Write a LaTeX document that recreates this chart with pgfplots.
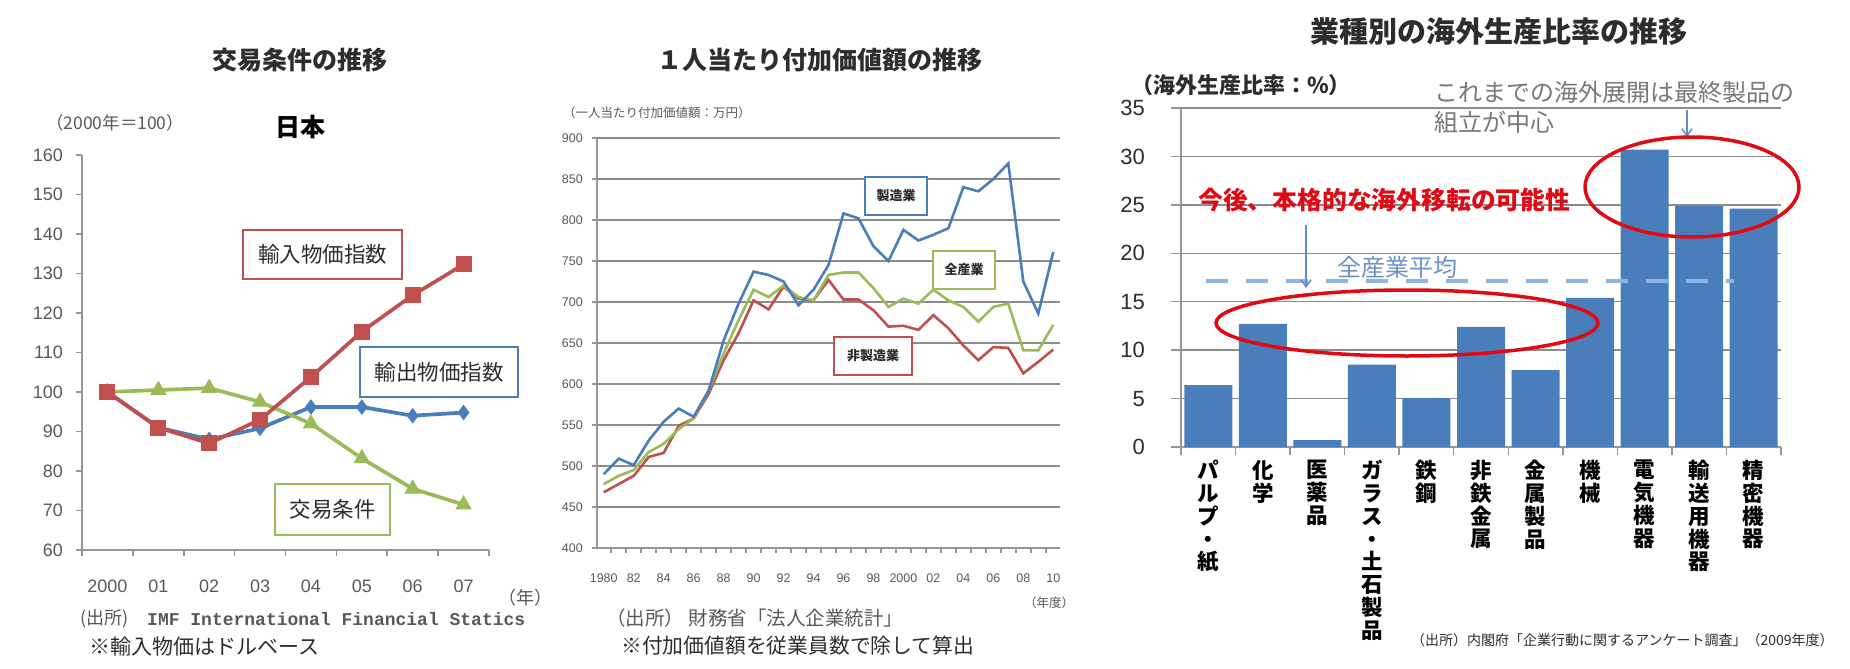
\documentclass[border=0pt]{standalone}
\usepackage{pgfplots}
\pgfplotsset{compat=1.18}
\usepackage{fontspec}
\setmainfont{Liberation Sans}
\newfontfamily\jp{Noto Sans CJK JP}
\newfontfamily\mono{Liberation Mono}
\usetikzlibrary{arrows.meta}
\newcommand{\fs}[1]{\fontsize{#1}{#1}\selectfont}
\definecolor{xred}{RGB}{192,80,77}
\definecolor{xblue}{RGB}{74,126,187}
\definecolor{xgreen}{RGB}{155,187,89}
\definecolor{axgray}{RGB}{150,150,150}
\definecolor{gridgray}{RGB}{140,140,140}
\definecolor{txtgray}{RGB}{89,89,89}
\definecolor{darktxt}{RGB}{45,45,45}
\definecolor{barblue}{RGB}{74,126,187}
\definecolor{avgblue}{RGB}{141,180,226}
\definecolor{annred}{RGB}{225,10,20}
\definecolor{arrowblue}{RGB}{100,140,200}
\definecolor{avgtxt}{RGB}{110,145,200}
\definecolor{anngray}{RGB}{120,120,120}

\pgfplotsset{
  every axis/.append style={
    scale only axis, anchor=south west,
    axis lines=left,
    axis line style={draw=axgray, line width=1.5pt, -},
    tick align=outside,
    every tick/.style={draw=axgray, line width=1.5pt},
    /pgf/number format/assume math mode=true,
  }
}

\begin{document}
\begin{tikzpicture}
\path[use as bounding box, fill=white] (0pt,0pt) rectangle (1850pt,-669pt);

% ---------------- Panel 1 ----------------
\begin{axis}[
  at={(82pt,-550pt)}, width=407pt, height=395pt,
  xmin=-0.5, xmax=7.5, ymin=60, ymax=160,
  ytick={60,70,...,160},
  xtick={0,...,7}, xticklabels={2000,01,02,03,04,05,06,07},
  minor xtick={-0.5,0.5,...,7.5},
  major tick length=6pt, minor tick length=6pt,
  major x tick style={draw=none},
  ticklabel style={font=\fs{18}, text=txtgray, inner sep=0pt},
  yticklabel style={anchor=east, xshift=-13pt},
  xticklabel style={anchor=north, yshift=-24pt},
]
\addplot[xblue, line width=3.7pt, mark=diamond*, mark size=7pt, mark options={line width=1pt}]
  coordinates {(0,100) (1,91) (2,88) (3,90.8) (4,96.2) (5,96.2) (6,94) (7,94.8)};
\addplot[xgreen, line width=3.7pt, mark=triangle*, mark size=8.5pt, mark options={line width=1pt}]
  coordinates {(0,100) (1,100.5) (2,101) (3,97.5) (4,92) (5,83.2) (6,75.5) (7,71.5)};
\addplot[xred, line width=3.7pt, mark=square*, mark size=7.5pt, mark options={line width=1pt}]
  coordinates {(0,100) (1,91) (2,87) (3,93) (4,103.8) (5,115.3) (6,124.5) (7,132.3)};
\end{axis}

\node[font=\jp\bfseries\fs{25}, text=darktxt] at (300pt,-60pt) {交易条件の推移};
\node[font=\jp\fs{17.5}, text=txtgray, anchor=west, inner sep=0pt] at (46pt,-123pt) {（2000年＝100）};
\node[font=\jp\bfseries\fs{25}, text=black] at (300pt,-127pt) {日本};
\node[draw=xred, line width=2.5pt, fill=white, minimum width=159pt, minimum height=49pt, inner sep=0pt,
      font=\jp\fs{21.5}, text=darktxt] at (322.5pt,-254.5pt) {輸入物価指数};
\node[draw=xblue, line width=2.5pt, fill=white, minimum width=158pt, minimum height=50pt, inner sep=0pt,
      font=\jp\fs{21.5}, text=darktxt] at (439pt,-372pt) {輸出物価指数};
\node[draw=xgreen, line width=2.5pt, fill=white, minimum width=115pt, minimum height=51pt, inner sep=0pt,
      font=\jp\fs{21.5}, text=darktxt] at (332.5pt,-509.5pt) {交易条件};
\node[font=\jp\fs{18}, text=txtgray] at (525pt,-598pt) {（年）};
\node[font=\jp\fs{18}, text=txtgray, anchor=west, inner sep=0pt] at (80pt,-619pt) {(出所)};
\node[font=\mono\bfseries\fs{18}, text=txtgray, anchor=west, inner sep=0pt] at (147pt,-619pt) {IMF International Financial Statics};
\node[font=\jp\fs{21}, text=darktxt, anchor=west, inner sep=0pt] at (89pt,-647pt) {※輸入物価はドルベース};

% ---------------- Panel 2 ----------------
\begin{axis}[
  at={(597pt,-548pt)}, width=463pt, height=410pt,
  xmin=1979.55, xmax=2010.45, ymin=400, ymax=900,
  ytick={400,450,...,900},
  ymajorgrids, grid style={draw=gridgray, line width=1.5pt},
  xtick={1980,1982,...,2010},
  xticklabels={1980,82,84,86,88,90,92,94,96,98,2000,02,04,06,08,10},
  minor xtick={1979.5,1980.5,...,2009.5},
  major tick length=5pt, minor tick length=5pt,
  major x tick style={draw=none},
  ticklabel style={font=\fs{12.5}, text=txtgray, inner sep=0pt},
  yticklabel style={anchor=east, xshift=-9pt},
  xticklabel style={anchor=north, yshift=-21pt},
]
\addplot[xred, line width=2.6pt] coordinates {
(1980,468) (1981,478) (1982,488) (1983,511) (1984,516) (1985,549) (1986,558) (1987,588)
(1988,629) (1989,662) (1990,702) (1991,691) (1992,719) (1993,704) (1994,702) (1995,727)
(1996,703) (1997,703) (1998,690) (1999,670) (2000,671) (2001,666) (2002,684) (2003,668)
(2004,647) (2005,629) (2006,645) (2007,644) (2008,613) (2009,627) (2010,642)};
\addplot[xgreen, line width=2.6pt] coordinates {
(1980,478) (1981,488) (1982,495) (1983,517) (1984,527) (1985,545) (1986,558) (1987,592)
(1988,637) (1989,678) (1990,715) (1991,706) (1992,720) (1993,706) (1994,702) (1995,733)
(1996,736) (1997,736) (1998,717) (1999,694) (2000,704) (2001,698) (2002,715) (2003,702)
(2004,694) (2005,676) (2006,694) (2007,698) (2008,641) (2009,641) (2010,672)};
\addplot[xblue, line width=2.6pt] coordinates {
(1980,490) (1981,509) (1982,501) (1983,531) (1984,554) (1985,570) (1986,560) (1987,592)
(1988,653) (1989,698) (1990,737) (1991,733) (1992,725) (1993,696) (1994,715) (1995,745)
(1996,808) (1997,802) (1998,768) (1999,750) (2000,788) (2001,775) (2002,782) (2003,790)
(2004,840) (2005,835) (2006,850) (2007,869) (2008,725) (2009,686) (2010,761)};
\end{axis}

\node[font=\jp\bfseries\fs{25}, text=darktxt] at (820pt,-60pt) {１人当たり付加価値額の推移};
\node[font=\jp\fs{12.5}, text=txtgray, anchor=west, inner sep=0pt] at (563pt,-113pt) {（一人当たり付加価値額：万円）};
\node[draw=xblue, line width=2.2pt, fill=white, minimum width=62pt, minimum height=38pt, inner sep=0pt,
      font=\jp\bfseries\fs{13}, text=darktxt] at (896pt,-196pt) {製造業};
\node[draw=xgreen, line width=2.2pt, fill=white, minimum width=62pt, minimum height=38pt, inner sep=0pt,
      font=\jp\bfseries\fs{13}, text=darktxt] at (964pt,-270pt) {全産業};
\node[draw=xred, line width=2.2pt, fill=white, minimum width=78pt, minimum height=38pt, inner sep=0pt,
      font=\jp\bfseries\fs{13}, text=darktxt] at (873pt,-356pt) {非製造業};
\node[font=\jp\fs{12.5}, text=txtgray, anchor=west, inner sep=0pt] at (1024pt,-603pt) {（年度）};
\node[font=\jp\fs{19.5}, text=txtgray, anchor=west, inner sep=0pt] at (606pt,-618pt) {（出所） 財務省「法人企業統計」};
\node[font=\jp\fs{20.8}, text=darktxt, anchor=west, inner sep=0pt] at (621pt,-646pt) {※付加価値額を従業員数で除して算出};

% ---------------- Panel 3 ----------------
\begin{axis}[
  at={(1181pt,-447pt)}, width=600pt, height=339pt,
  xmin=-0.5, xmax=10.5, ymin=0, ymax=35,
  ytick={0,5,...,35},
  ymajorgrids, grid style={draw=gridgray, line width=1.5pt},
  xtick={0,...,10},
  xticklabels={{パ\\ル\\プ\\・\\紙},{化\\学},{医\\薬\\品},{ガ\\ラ\\ス\\・\\土\\石\\製\\品},{鉄\\鋼},{非\\鉄\\金\\属},{金\\属\\製\\品},{機\\械},{電\\気\\機\\器},{輸\\送\\用\\機\\器},{精\\密\\機\\器}},
  minor xtick={-0.5,0.5,...,10.5},
  major tick length=10pt, minor tick length=8pt,
  major x tick style={draw=none},
  yticklabel style={font=\fs{22}, text=darktxt, anchor=east, inner sep=0pt, xshift=-26pt},
  xticklabel style={font=\jp\bfseries\fontsize{21.5}{22.8}\selectfont, align=center, anchor=north, inner sep=0pt, yshift=-3pt, text=black},
]
\addplot[ybar, bar width=48pt, fill=barblue, draw=none] coordinates {
(0,6.4) (1,12.7) (2,0.7) (3,8.5) (4,5.05) (5,12.4) (6,7.95) (7,15.4) (8,30.7) (9,24.9) (10,24.6)};
\addplot[avgblue, line width=4pt, dash pattern=on 22pt off 18pt] coordinates {(-0.04,17.1) (9.63,17.1)};
\end{axis}

\node[font=\jp\bfseries\fs{29}, text=darktxt] at (1499pt,-32pt) {業種別の海外生産比率の推移};
\node[font=\jp\bfseries\fs{22}, text=darktxt, anchor=west, inner sep=0pt] at (1131pt,-85pt) {（海外生産比率：\%）};
\node[font=\jp\fs{24}, text=anngray, anchor=west, inner sep=0pt] at (1434pt,-92pt) {これまでの海外展開は最終製品の};
\node[font=\jp\fs{24}, text=anngray, anchor=west, inner sep=0pt] at (1434pt,-122pt) {組立が中心};
\node[font=\jp\bfseries\fs{24.8}, text=annred, anchor=west, inner sep=0pt] at (1198pt,-200pt) {今後、本格的な海外移転の可能性};
\node[font=\jp\fs{24}, text=avgtxt, anchor=west, inner sep=0pt] at (1337pt,-267pt) {全産業平均};
\draw[arrowblue, line width=1.5pt, -{Straight Barb[length=7pt,width=10pt]}] (1687pt,-110pt) -- (1687pt,-137pt);
\draw[arrowblue, line width=1.5pt, -{Straight Barb[length=7pt,width=10pt]}] (1306pt,-225pt) -- (1306pt,-288pt);
\draw[annred, line width=3.5pt] (1692pt,-187pt) ellipse [x radius=107pt, y radius=50pt];
\draw[annred, line width=3.5pt] (1407pt,-323pt) ellipse [x radius=191pt, y radius=33pt];
\node[font=\jp\fs{14}, text=darktxt, anchor=west, inner sep=0pt] at (1411pt,-640pt) {（出所）内閣府「企業行動に関するアンケート調査」（2009年度）};

\end{tikzpicture}
\end{document}
